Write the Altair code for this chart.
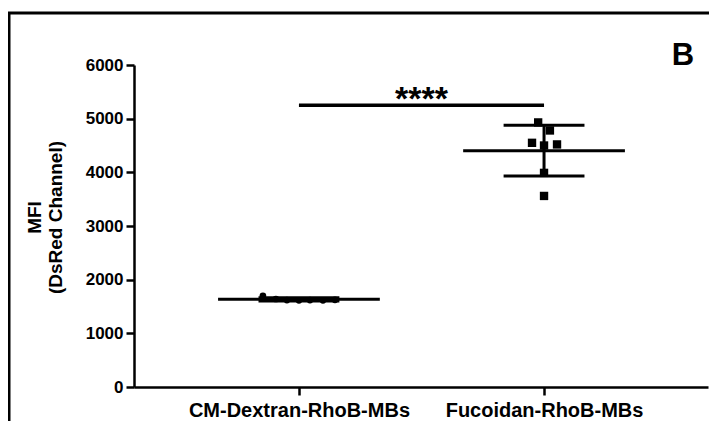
import altair as alt
import pandas as pd

categories = ["CM-Dextran-RhoB-MBs", "Fucoidan-RhoB-MBs"]
cm_values = [1700, 1640, 1620, 1615, 1620, 1615, 1625]
cm_jitter = [-0.147, -0.094, -0.049, 0.0, 0.045, 0.098, 0.147]
fuc_values = [4930, 4780, 4550, 4520, 4500, 3990, 3560]
fuc_jitter = [-0.024, 0.024, -0.049, 0.053, 0.0, 0.0, 0.0]
y_ticks = [0, 1000, 2000, 3000, 4000, 5000, 6000]
sig_label = "****"
sig_y = 5250
panel_label = "B"

rows = []
for v, j in zip(cm_values, cm_jitter):
    rows.append({"category": categories[0], "idx": 0, "value": v, "jit": j})
for v, j in zip(fuc_values, fuc_jitter):
    rows.append({"category": categories[1], "idx": 1, "value": v, "jit": j})
df = pd.DataFrame(rows)

FONT = "Liberation Sans"
xscale = alt.Scale(domain=[-0.673, 1.669], nice=False, zero=False)
yscale = alt.Scale(domain=[0, 6000], nice=False)

label_expr = "datum.value == 0 ? '%s' : (datum.value == 1 ? '%s' : '')" % (categories[0], categories[1])

axis_style = dict(
    grid=False, domainColor="black", domainWidth=2.5, tickColor="black", tickWidth=2.5,
    labelFont=FONT, labelFontWeight="bold", labelColor="black",
    titleFont=FONT, titleFontWeight="bold", titleFontSize=19, titleColor="black",
    labelLimit=500, labelOverlap=False,
)

base = alt.Chart(df)

points = base.transform_calculate(xpos="datum.idx + datum.jit").mark_point(
    filled=True, opacity=1, color="black"
).encode(
    x=alt.X("xpos:Q", scale=xscale,
            axis=alt.Axis(values=[0, 1], labelExpr=label_expr, title=None, labelFontSize=20,
                          tickSize=8, labelPadding=5, **axis_style)),
    y=alt.Y("value:Q", scale=yscale,
            axis=alt.Axis(values=y_ticks, format="d", title=["MFI", "(DsRed Channel)"], labelFontSize=17,
                          tickSize=8, labelPadding=3, titlePadding=20, titleY=152, **axis_style)),
    shape=alt.Shape("category:N", scale=alt.Scale(domain=categories, range=["circle", "square"]), legend=None),
    size=alt.Size("category:N", scale=alt.Scale(domain=categories, range=[45, 70]), legend=None),
)

agg = base.transform_aggregate(
    mean="mean(value)", sd="stdev(value)", groupby=["category", "idx"]
).transform_calculate(
    lo="datum.mean - datum.sd", hi="datum.mean + datum.sd",
    ml="datum.idx - 0.33", mr="datum.idx + 0.33",
    cl="datum.idx - 0.165", cr="datum.idx + 0.165",
)

mean_line = agg.mark_rule(color="black", strokeWidth=3).encode(
    x=alt.X("ml:Q", scale=xscale), x2="mr:Q", y=alt.Y("mean:Q", scale=yscale)
)
err_v = agg.mark_rule(color="black", strokeWidth=3).encode(
    x=alt.X("idx:Q", scale=xscale), y=alt.Y("lo:Q", scale=yscale), y2="hi:Q"
)
cap_lo = agg.mark_rule(color="black", strokeWidth=3).encode(
    x=alt.X("cl:Q", scale=xscale), x2="cr:Q", y=alt.Y("lo:Q", scale=yscale)
)
cap_hi = agg.mark_rule(color="black", strokeWidth=3).encode(
    x=alt.X("cl:Q", scale=xscale), x2="cr:Q", y=alt.Y("hi:Q", scale=yscale)
)

sig_df = pd.DataFrame({"x1": [0], "x2": [1], "y": [sig_y], "xm": [0.5], "label": [sig_label]})
sig_bar = alt.Chart(sig_df).mark_rule(color="black", strokeWidth=3.5).encode(
    x=alt.X("x1:Q", scale=xscale), x2="x2:Q", y=alt.Y("y:Q", scale=yscale)
)
sig_text = alt.Chart(sig_df).mark_text(
    font=FONT, fontWeight="bold", fontSize=34, baseline="alphabetic", align="center", dy=5, color="black"
).encode(x=alt.X("xm:Q", scale=xscale), y=alt.Y("y:Q", scale=yscale), text="label:N")

panel = alt.Chart(pd.DataFrame({"t": [panel_label]})).mark_text(
    font=FONT, fontWeight="bold", fontSize=31, baseline="alphabetic", align="center", color="black"
).encode(x=alt.value(549), y=alt.value(0), text="t:N")

frame_left = alt.Chart(pd.DataFrame({"a": [0]})).mark_rule(color="black", strokeWidth=3, clip=False).encode(
    x=alt.value(-125), y=alt.value(-52), y2=alt.value(370)
)
frame_top = alt.Chart(pd.DataFrame({"a": [0]})).mark_rule(color="black", strokeWidth=3, clip=False).encode(
    x=alt.value(-126.5), x2=alt.value(580), y=alt.value(-52)
)

chart = alt.layer(
    frame_left, frame_top, mean_line, err_v, cap_lo, cap_hi, points, sig_bar, sig_text, panel
).properties(
    width=574, height=322,
    background="white",
    autosize=alt.AutoSizeParams(type="none"),
    padding={"left": 126, "top": 57, "right": 1, "bottom": 34},
).configure_view(stroke=None)

chart.save("out.html", embed_options={"renderer": "svg", "actions": False})
